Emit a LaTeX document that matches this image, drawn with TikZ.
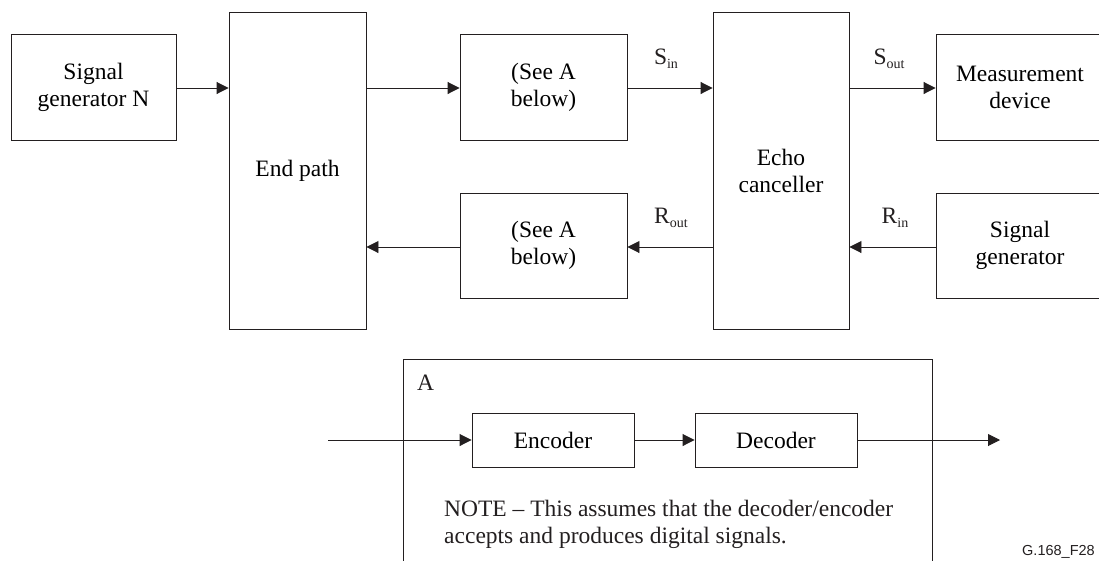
\documentclass[tikz,border=0pt]{standalone}
\usepackage{fontspec}
\setmainfont{Liberation Serif}
\newfontfamily\figfont{Liberation Sans}
\usetikzlibrary{arrows.meta}
\definecolor{ink}{HTML}{231F20}
\newcommand{\lblsub}[1]{\raisebox{-4pt}{\fontsize{14}{14}\selectfont #1}}

\begin{document}
\begin{tikzpicture}[x=1pt,y=1pt,yscale=-1,xscale=1,
	blk/.style={draw=ink, line width=0.9pt, inner sep=0pt, align=center, font=\fontsize{23.5}{27}\selectfont},
	txt/.style={inner sep=0pt, text=ink, font=\fontsize{23.5}{27}\selectfont},
	arr/.style={draw=ink, line width=0.9pt, -{Triangle[length=12pt,width=12pt]}}]
	\useasboundingbox (0,0) rectangle (1099,560);
	
	%Shape: Rectangle [blocks of the upper part]
	\node [blk, minimum width=165, minimum height=106] (sigN) at (93.5,87) {Signal\\generator N};
	\node [blk, minimum width=137, minimum height=317] (endpath) at (297.5,170.5) {End path};
	\node [blk, minimum width=167, minimum height=106] (seeAs) at (543.5,87) {(See A\\below)};
	\node [blk, minimum width=167, minimum height=105] (seeAr) at (543.5,245.5) {(See A\\below)};
	\node [blk, minimum width=136, minimum height=317] (echo) at (781,170.5) {Echo\\canceller};
	\node [blk, minimum width=168, minimum height=106] (meas) at (1020,87) {Measurement\\device};
	\node [blk, minimum width=168, minimum height=105] (siggen) at (1020,245.5) {Signal\\generator};
	
	%Straight Lines [send and receive paths]
	\draw [arr] (sigN.east |- 0,88) -- (endpath.west |- 0,88);
	\draw [arr] (endpath.east |- 0,88) -- (seeAs.west |- 0,88);
	\draw [arr] (seeAs.east |- 0,88) -- (echo.west |- 0,88);
	\draw [arr] (echo.east |- 0,88) -- (meas.west |- 0,88);
	\draw [arr] (siggen.west |- 0,247) -- (echo.east |- 0,247);
	\draw [arr] (echo.west |- 0,247) -- (seeAr.east |- 0,247);
	\draw [arr] (seeAr.west |- 0,247) -- (endpath.east |- 0,247);
	
	% Text Node
	\node [txt, anchor=base] (sin) at (666,64) {S\lblsub{in}};
	% Text Node
	\node [txt, anchor=base] (sout) at (889,64) {S\lblsub{out}};
	% Text Node
	\node [txt, anchor=base] (rout) at (671,223) {R\lblsub{out}};
	% Text Node
	\node [txt, anchor=base] (rin) at (895,223) {R\lblsub{in}};
	
	%Shape: Rectangle [A]
	\node [blk, minimum width=529, minimum height=260] (boxA) at (667.5,489) {};
	\node [txt, anchor=base west] (labA) at (417,390) {A};
	\node [blk, minimum width=162, minimum height=54] (enc) at (553,440) {Encoder};
	\node [blk, minimum width=162, minimum height=54] (dec) at (776,440) {Decoder};
	\coordinate (inA) at (328,440);
	\coordinate (outA) at (1000,440);
	\draw [arr] (inA) -- (enc);
	\draw [arr] (enc) -- (dec);
	\draw [arr] (dec) -- (outA);
	
	% Text Node
	\node [txt, anchor=base west, align=left] (note) at (444,543) {NOTE -- This assumes that the decoder/encoder\\accepts and produces digital signals.};
	% Text Node
	\node [inner sep=0pt, anchor=base west, text=ink, font=\figfont\fontsize{14.5}{14.5}\selectfont] (figno) at (1022,555) {G.168\_F28};
	
\end{tikzpicture}
\end{document}
